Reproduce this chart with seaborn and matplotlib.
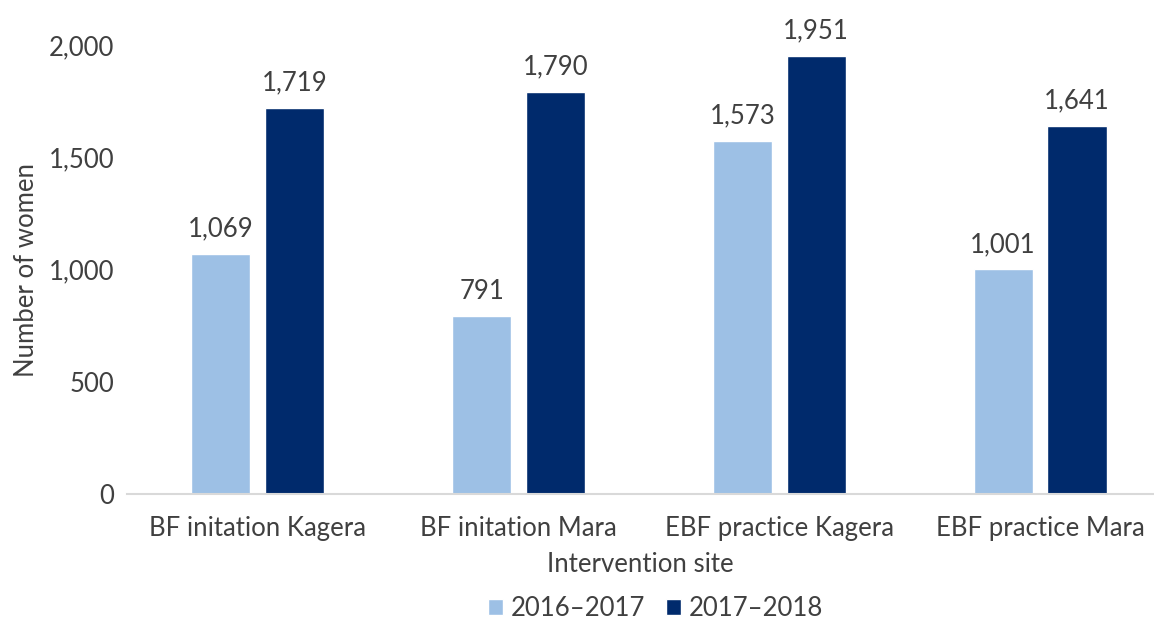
import pandas as pd
import matplotlib.pyplot as plt
import seaborn as sns

# Data
sites = ["BF initation Kagera", "BF initation Mara", "EBF practice Kagera", "EBF practice Mara"]
years = ["2016\u20132017", "2017\u20132018"]
women_2016_2017 = [1069, 791, 1573, 1001]
women_2017_2018 = [1719, 1790, 1951, 1641]

COLORS = ["#9dc0e5", "#002a6c"]
TEXT = "#404040"
FS = 18.5

df = pd.DataFrame({
    "site": sites * 2,
    "period": [years[0]] * 4 + [years[1]] * 4,
    "women": women_2016_2017 + women_2017_2018,
})

sns.set_theme(style="white")
plt.rcParams["font.family"] = ["Lato", "DejaVu Sans"]

fig = plt.figure(figsize=(11.54, 6.19), dpi=100)
ax = fig.add_axes([0.110, 0.202, 0.890, 0.725])

sns.barplot(data=df, x="site", y="women", hue="period", palette=COLORS,
            saturation=1, width=0.567, gap=0.2, ax=ax, legend=True)

for cont in ax.containers:
    ax.bar_label(cont, labels=[f"{v:,.0f}" for v in cont.datavalues],
                 padding=9, fontsize=FS, color=TEXT)

ax.set_xlim(-0.502, 3.437)
ax.set_ylim(0, 2000)
ax.set_yticks([0, 500, 1000, 1500, 2000])
ax.set_yticklabels([f"{v:,}" for v in [0, 500, 1000, 1500, 2000]])
ax.tick_params(axis="both", length=0, labelsize=FS, labelcolor=TEXT)
ax.tick_params(axis="x", pad=16)
ax.tick_params(axis="y", pad=9)

for s in ["top", "right", "left"]:
    ax.spines[s].set_visible(False)
ax.spines["bottom"].set_color("#d9d9d9")
ax.spines["bottom"].set_linewidth(1.5)

ax.set_xlabel("Intervention site", fontsize=FS, color=TEXT, labelpad=8)
ax.set_ylabel("Number of women", fontsize=FS, color=TEXT, labelpad=7)

handles, labels = ax.get_legend_handles_labels()
ax.legend_.remove()
fig.legend(handles, labels, loc="center", bbox_to_anchor=(0.568, 0.017),
           ncol=2, frameon=False, fontsize=FS, labelcolor=TEXT,
           handlelength=0.6, handleheight=0.6, handletextpad=0.3,
           columnspacing=0.8)

fig.savefig("out.png", dpi=100)
plt.close(fig)
